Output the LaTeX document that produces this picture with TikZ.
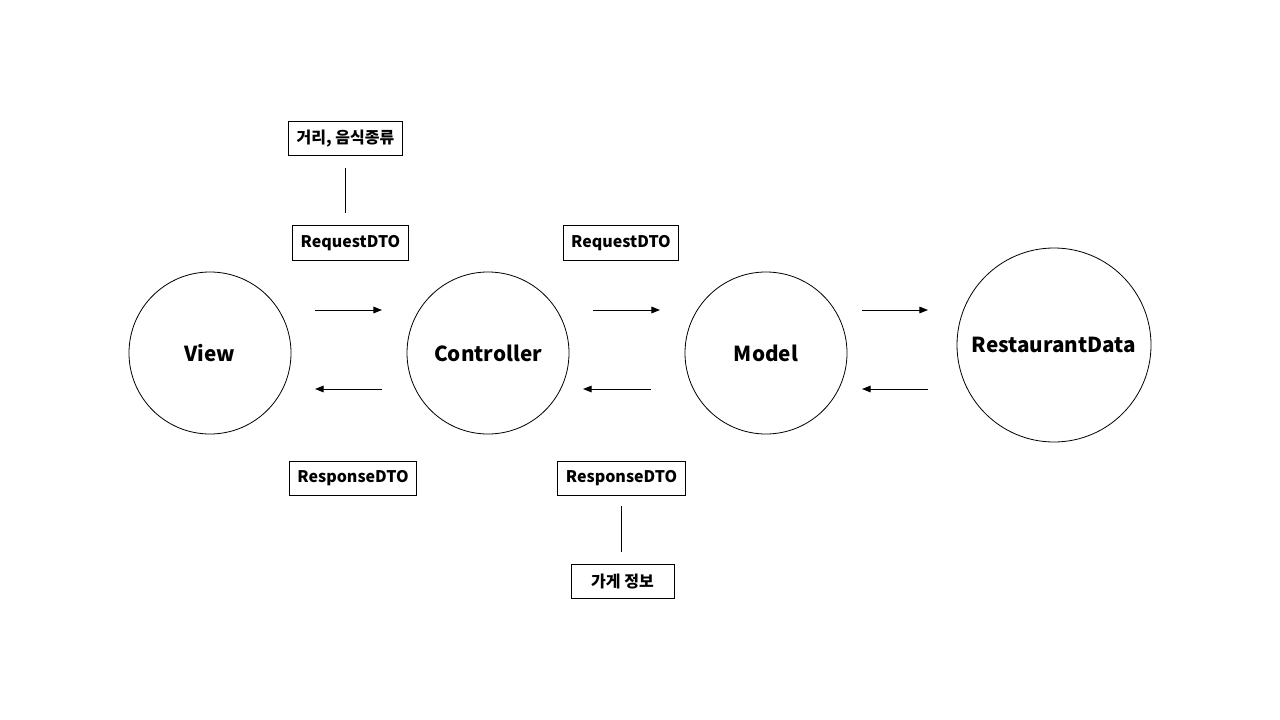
\documentclass[tikz,border=0pt]{standalone}
\usepackage{fontspec}
\setmainfont{Noto Sans CJK KR}
\usetikzlibrary{positioning,calc,arrows.meta}

\begin{document}
\begin{tikzpicture}[x=0.75pt,y=-0.75pt,node distance=208.5pt,on grid,
    comp/.style={circle,draw,line width=0.6pt,font=\fontsize{15.5}{18}\selectfont\bfseries},
    tag/.style={draw,line width=0.75pt,minimum height=25.5pt,inner xsep=6pt,font=\fontsize{12}{14}\selectfont\bfseries},
    flow/.style={line width=0.75pt,-{Triangle[length=6.5pt,width=5pt]}}]
    \useasboundingbox (0,0) rectangle (1280,720);
    % components
    \node[comp,minimum size=121.5pt] (view) at (210,353) {View};
    \node[comp,minimum size=121.5pt] (ctrl) [right=of view] {Controller};
    \node[comp,minimum size=121.5pt] (model) [right=of ctrl] {Model};
    \node[comp,minimum size=145.5pt] (rdata) at (1054,345) {RestaurantData};
    % labels
    \node[tag] (dist) at (345.5,138.5) {거리, 음식종류};
    \node[tag] (req1) at (350.5,243) {RequestDTO};
    \node[tag] (req2) at (621,243) {RequestDTO};
    \node[tag] (resp1) at (353,478) {ResponseDTO};
    \node[tag] (resp2) at (621.5,478.5) {ResponseDTO};
    \node[tag,minimum width=77.25pt] (info) at (622.5,581.5) {가게 정보};
    \draw[line width=0.75pt,shorten <=9pt,shorten >=9pt] (dist.south) -- (dist.south |- req1.north);
    \draw[line width=0.75pt,shorten <=7.5pt,shorten >=9pt] (resp2.south) -- (resp2.south |- info.north);
    % requests and responses
    \draw[flow] ($(view.center)+(105,-43)$) -- ($(ctrl.center)+(-106,-43)$);
    \draw[flow] ($(ctrl.center)+(105,-43)$) -- ($(model.center)+(-106,-43)$);
    \draw[flow] ($(model.center)+(96,-43)$) -- ($(rdata.center)+(-126,-35)$);
    \draw[flow] ($(rdata.center)+(-126,44)$) -- ($(model.center)+(96,36)$);
    \draw[flow] ($(model.center)+(-115,36)$) -- ($(ctrl.center)+(95,36)$);
    \draw[flow] ($(ctrl.center)+(-106,36)$) -- ($(view.center)+(105,36)$);
\end{tikzpicture}
\end{document}
